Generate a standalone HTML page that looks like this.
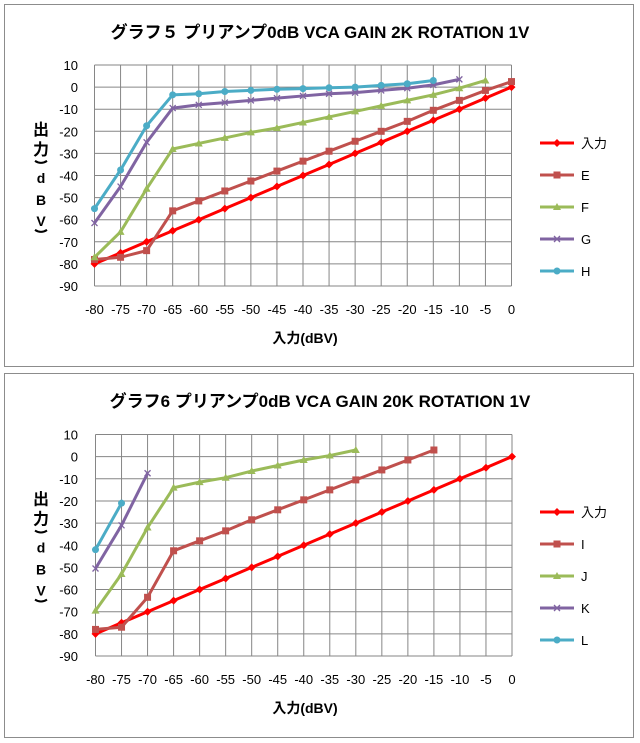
<!DOCTYPE html>
<html><head><meta charset="utf-8"><style>
body{margin:0;background:#fff;}
svg{display:block;font-family:"Liberation Sans","Noto Sans CJK JP",sans-serif;}
</style></head><body>
<svg id="s" width="640" height="743" xmlns="http://www.w3.org/2000/svg">
<rect x="0" y="0" width="640" height="743" fill="#fff"/>
<rect x="4.5" y="4.5" width="629" height="362" fill="#fff" stroke="#8c8c8c"/>
<rect x="4.5" y="373.5" width="629" height="364" fill="#fff" stroke="#8c8c8c"/>
<text x="320" y="38" text-anchor="middle" font-size="17" font-weight="bold">グラフ５  プリアンプ0dB VCA GAIN 2K ROTATION 1V</text>
<text x="320" y="407" text-anchor="middle" font-size="17" font-weight="bold">グラフ6  プリアンプ0dB VCA GAIN 20K ROTATION 1V</text>
<g id="g"></g>
</svg>
<script>
const NS="http://www.w3.org/2000/svg",g=document.getElementById('g');
function el(t,a,txt){const e=document.createElementNS(NS,t);for(const k in a)e.setAttribute(k,a[k]);if(txt!==undefined)e.textContent=txt;g.appendChild(e);return e;}
const cols={r:'#ff0000',E:'#c0504d',F:'#9bbb59',G:'#8064a2',H:'#4bacc6'};
function marker(type,x,y,c){
 if(type=='d')el('polygon',{points:`${x},${y-4} ${x+4},${y} ${x},${y+4} ${x-4},${y}`,fill:c});
 else if(type=='s')el('rect',{x:x-3.5,y:y-3.5,width:7,height:7,fill:c});
 else if(type=='t')el('polygon',{points:`${x},${y-4} ${x+4},${y+3} ${x-4},${y+3}`,fill:c});
 else if(type=='x'){el('path',{d:`M${x-3},${y-3}L${x+3},${y+3}M${x+3},${y-3}L${x-3},${y+3}`,stroke:c,'stroke-width':1.3});}
 else el('circle',{cx:x,cy:y,r:3.5,fill:c});
}
function chart(L,R,T,B,series,legY){
 const X=v=>L+(v+80)/80*(R-L), Y=v=>T+(10-v)/100*(B-T);
 for(let i=0;i<=16;i++){const x=L+i*(R-L)/16;el('line',{x1:x,y1:T,x2:x,y2:B,stroke:'#868686','stroke-width':1});
  el('text',{x:x,y:B+28,'text-anchor':'middle','font-size':13},String(-80+i*5));}
 for(let i=0;i<=10;i++){const y=T+i*(B-T)/10;el('line',{x1:L,y1:y,x2:R,y2:y,stroke:'#868686','stroke-width':1});
  el('text',{x:78,y:y+5,'text-anchor':'end','font-size':13},String(10-i*10));}
 series.forEach((s,k)=>{
  const pts=s.d.map((v,i)=>[X(-80+i*5),Y(v)]);
  el('polyline',{points:pts.map(p=>p.join(',')).join(' '),fill:'none',stroke:s.c,'stroke-width':3,'stroke-linejoin':'round'});
  pts.forEach(p=>marker(s.m,p[0],p[1],s.c));
  const ly=legY+k*32;
  el('line',{x1:540,y1:ly,x2:574,y2:ly,stroke:s.c,'stroke-width':3});marker(s.m,557,ly,s.c);
  el('text',{x:581,y:ly+5,'font-size':13},s.n);
 });
 // y-axis title
 const cy=T+(B-T)*0.28;
 el('text',{x:41,y:cy+8,'text-anchor':'middle','font-size':16,'font-weight':'bold'},'出');
 el('text',{x:41,y:cy+28,'text-anchor':'middle','font-size':16,'font-weight':'bold'},'力');
 el('path',{d:`M35,${cy+34}Q41,${cy+38} 47,${cy+34}`,stroke:'#000','stroke-width':2,fill:'none'});
 el('text',{x:41,y:cy+56,'text-anchor':'middle','font-size':14,'font-weight':'bold'},'d');
 el('text',{x:41,y:cy+78,'text-anchor':'middle','font-size':14,'font-weight':'bold'},'B');
 el('text',{x:41,y:cy+99,'text-anchor':'middle','font-size':14,'font-weight':'bold'},'V');
 el('path',{d:`M35,${cy+103}Q41,${cy+107} 47,${cy+103}`,stroke:'#000','stroke-width':2,fill:'none'});
 el('text',{x:305,y:B+57,'text-anchor':'middle','font-size':14,'font-weight':'bold'},'入力(dBV)');
}
const red=[];for(let i=0;i<=16;i++)red.push(-80+i*5);
chart(94.5,511.5,65,286,[
 {n:'入力',c:cols.r,m:'d',d:red},
 {n:'E',c:cols.E,m:'s',d:[-78,-77,-74,-56,-51.5,-47,-42.5,-38,-33.5,-29,-24.5,-20,-15.5,-10.5,-6,-1.5,2.5]},
 {n:'F',c:cols.F,m:'t',d:[-77,-65.5,-46,-28,-25.5,-23,-20.5,-18.5,-16,-13.5,-11,-8.5,-6,-3.5,-0.5,3]},
 {n:'G',c:cols.G,m:'x',d:[-61.5,-45,-25,-9.5,-8,-7,-6,-5,-4,-3,-2.5,-1.5,-0.5,1,3.5]},
 {n:'H',c:cols.H,m:'o',d:[-55,-37.5,-17.5,-3.5,-3,-2,-1.5,-1,-0.7,-0.3,0,0.8,1.5,3]}
],143);
chart(95.5,512,434.5,656,[
 {n:'入力',c:cols.r,m:'d',d:red},
 {n:'I',c:cols.E,m:'s',d:[-78,-77,-63.5,-42.5,-38,-33.5,-28.5,-24,-19.5,-15,-10.5,-6,-1.5,3]},
 {n:'J',c:cols.F,m:'t',d:[-69.5,-53,-32,-14,-11.5,-9.5,-6.5,-4,-1.5,0.5,3]},
 {n:'K',c:cols.G,m:'x',d:[-50.5,-31,-7.5]},
 {n:'L',c:cols.H,m:'o',d:[-42,-21]}
],512);
</script>
</body></html>
